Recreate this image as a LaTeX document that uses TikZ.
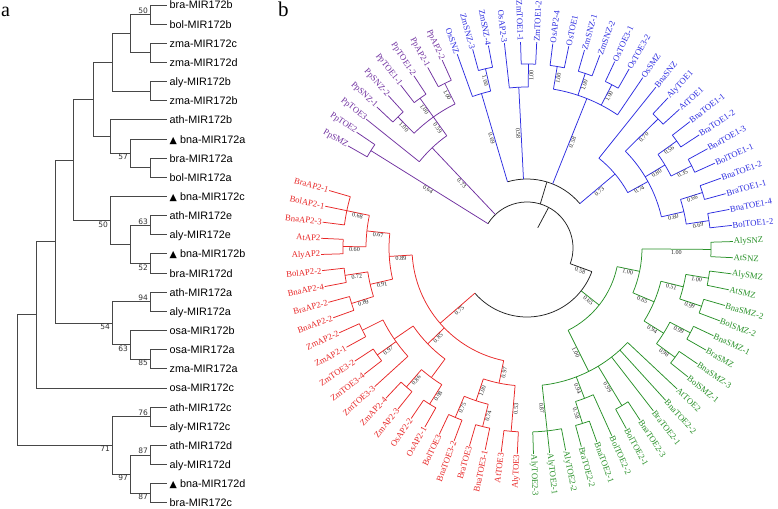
\documentclass[tikz,border=0pt]{standalone}
\usepackage{fontspec}
\setmainfont{Liberation Serif}
\setsansfont{Liberation Sans}
\newfontfamily\dejavu{DejaVu Sans}
\definecolor{pp}{RGB}{112,48,160}
\definecolor{bb}{RGB}{45,45,225}
\definecolor{rr}{RGB}{232,38,38}
\definecolor{gg}{RGB}{40,145,40}
\definecolor{kk}{RGB}{35,35,35}
\newcommand\Arc[4]{\draw[#1] (#2:#4) arc[start angle=#2,end angle=#3,radius=#4];}
\newcommand\Rad[4]{\draw[#1] (#2:#3) -- (#2:#4);}
\newcommand\Bs[3]{\pgfmathsetmacro\bsrot{cos(#1)>=0 ? #1 : #1+180}\node[bsb,rotate=\bsrot] at (#1:#2) {#3};}
\newcommand\Lf[4]{%
 \pgfmathsetmacro\lth{150.3-4.5*#1}%
 \pgfmathtruncatemacro\lrt{cos(\lth)>=0 ? 1 : 0}%
 \draw[#4] (\lth:#3) -- (\lth:206);%
 \ifnum\lrt=1
   \node[lfb,text=#4,anchor=west,rotate=\lth] (L#1) at (\lth:205.5) {#2};%
 \else
   \pgfmathsetmacro\lthr{\lth+180}%
   \node[lfb,text=#4,anchor=east,rotate=\lthr] (L#1) at (\lth:205.5) {#2};%
 \fi}
\begin{document}
\begin{tikzpicture}[x=1pt,y=1pt,
  tr/.style={draw=black!72,line width=0.9pt},
  lfa/.style={font=\sffamily\fontsize{10.8}{11}\selectfont,anchor=base west,inner sep=0pt},
  bsa/.style={font=\dejavu\fontsize{7.5}{8}\selectfont,inner sep=0.8pt,text=black!80},
  bsb/.style={font=\fontsize{6.1}{6.5}\selectfont,inner sep=0.5pt,anchor=north,text=black!85},
  lfb/.style={font=\fontsize{8.7}{9}\selectfont,inner sep=1pt}]
\fill[white] (0,0) rectangle (778,508);
\useasboundingbox (0,0) rectangle (778,508);
% ---------------- panel a ----------------
\node[anchor=base west,inner sep=0pt,font=\fontsize{20}{20}\selectfont] (pa) at (1,491) {a};
\begin{scope}[shift={(0,508)},yscale=-1]
\foreach \i in {0,...,26} {\coordinate (t\i) at (167,{5+19.15*\i});}
\foreach \i/\nm in {0/bra-MIR172b,1/bol-MIR172b,2/zma-MIR172c,3/zma-MIR172d,4/aly-MIR172b,
  5/zma-MIR172b,6/ath-MIR172b,8/bra-MIR172a,9/bol-MIR172a,11/ath-MIR172e,12/aly-MIR172e,
  14/bra-MIR172d,15/ath-MIR172a,16/aly-MIR172a,17/osa-MIR172b,18/osa-MIR172a,19/zma-MIR172a,
  20/osa-MIR172c,21/ath-MIR172c,22/aly-MIR172c,23/ath-MIR172d,24/aly-MIR172d,26/bra-MIR172c}
  {\node[lfa] (n\i) at (169.5,{9+19.15*\i}) {\nm};}
\foreach \i/\nm in {7/bna-MIR172a,10/bna-MIR172c,13/bna-MIR172b,25/bna-MIR172d}
  {\node[lfa] (n\i) at (169.5,{9+19.15*\i}) {{\dejavu\fontsize{9.5}{10}\selectfont ▲} \nm};}
\coordinate (a1) at (150,14.575);  \coordinate (a2) at (150,52.875);
\coordinate (a3) at (130,33.725);  \coordinate (a4) at (150,91.175);
\coordinate (a5) at (112,62.45);   \coordinate (a6) at (150,167.775);
\coordinate (a7) at (130,153.41);  \coordinate (a8) at (110,136.66);
\coordinate (a9) at (93,99.55);    \coordinate (a10) at (150,225.225);
\coordinate (a11) at (150,263.525);\coordinate (a12) at (130,244.375);
\coordinate (a13) at (110,220.44); \coordinate (a14) at (73,159.99);
\coordinate (a15) at (150,301.825);\coordinate (a16) at (150,359.275);
\coordinate (a17) at (130,344.91); \coordinate (a18) at (112,323.37);
\coordinate (a19) at (55,241.68);  \coordinate (a20) at (36,314.84);
\coordinate (a21) at (150,416.725);\coordinate (a22) at (150,455.025);
\coordinate (a23) at (150,493.325);\coordinate (a24) at (130,474.175);
\coordinate (a25) at (112,445.45); \coordinate (a0) at (17,380.15);
\foreach \p/\c in {a1/t0,a1/t1,a2/t2,a2/t3,a3/a1,a3/a2,a4/t4,a4/t5,a5/a3,a5/a4,
  a6/t8,a6/t9,a7/t7,a7/a6,a8/t6,a8/a7,a9/a5,a9/a8,a10/t11,a10/t12,a11/t13,a11/t14,
  a12/a10,a12/a11,a13/t10,a13/a12,a14/a9,a14/a13,a15/t15,a15/t16,a16/t18,a16/t19,
  a17/t17,a17/a16,a18/a15,a18/a17,a19/a14,a19/a18,a20/a19,a20/t20,a21/t21,a21/t22,
  a22/t23,a22/t24,a23/t25,a23/t26,a24/a22,a24/a23,a25/a21,a25/a24,a0/a20,a0/a25}
  {\draw[tr] (\p) |- (\c);}
\foreach \p/\t in {a1/50,a10/63,a15/94,a21/76,a22/87}
  {\node[bsa,anchor=south east] at ([xshift=-1pt]\p) {\t};}
\foreach \p/\t in {a7/57,a13/50,a11/52,a18/54,a17/63,a16/85,a23/87,a24/97,a25/71}
  {\node[bsa,anchor=north east] at ([xshift=-1pt]\p) {\t};}
\end{scope}
% ---------------- panel b ----------------
\node[anchor=north west,inner sep=0pt,font=\fontsize{21}{21}\selectfont] (pb) at (278,506) {b};
\begin{scope}[shift={(527,260)},line width=0.75pt]
% backbone
\Arc{kk}{148.05}{-20}{46}
\Rad{kk}{62}{23}{46}
\Rad{kk}{73.24}{46}{69}
\Arc{kk}{106.43}{40.05}{69}
\Rad{kk}{-20}{46}{69} \Bs{-20}{57.5}{0.58}
\Arc{kk}{-20}{-139.1}{69}
% purple
\Arc{pp}{150.3}{145.8}{184}
\Arc{pp}{136.8}{132.3}{184}
\Arc{pp}{127.8}{123.3}{184}
\Arc{pp}{118.8}{114.3}{184}
\Arc{pp}{134.55}{116.55}{161}
\Rad{pp}{134.55}{161}{184}\Rad{pp}{125.55}{161}{184}\Rad{pp}{116.55}{161}{184}
\Arc{pp}{141.3}{125.55}{138}
\Rad{pp}{125.55}{138}{161}
\Rad{pp}{148.05}{46}{184}
\Rad{pp}{133.43}{46}{138}
\Bs{148.05}{115}{0.64}\Bs{134.55}{172.5}{1.00}\Bs{125.55}{172.5}{1.00}
\Bs{116.55}{172.5}{1.00}\Bs{125.55}{149.5}{0.59}\Bs{133.43}{92}{0.73}
% blue
\Arc{bb}{105.3}{100.8}{184}
\Arc{bb}{109.8}{103.05}{161}\Rad{bb}{103.05}{161}{184}
\Arc{bb}{91.8}{87.3}{184}
\Arc{bb}{96.3}{89.55}{161}\Rad{bb}{89.55}{161}{184}
\Arc{bb}{82.8}{78.3}{184}
\Arc{bb}{73.8}{69.3}{184}
\Arc{bb}{64.8}{60.3}{184}
\Arc{bb}{80.55}{55.8}{161}
\Rad{bb}{80.55}{161}{184}\Rad{bb}{71.55}{161}{184}\Rad{bb}{62.55}{161}{184}
\Rad{bb}{106.43}{69}{161}\Rad{bb}{92.93}{69}{161}\Rad{bb}{68.18}{69}{161}\Rad{bb}{40.05}{69}{115}
\Arc{bb}{51.3}{28.8}{115}
\Rad{bb}{28.8}{115}{138}
\Arc{bb}{44.55}{13.05}{138}
\Arc{bb}{46.8}{42.3}{184}\Rad{bb}{44.55}{138}{184}
\Arc{bb}{37.8}{33.3}{184}\Arc{bb}{28.8}{24.3}{184}
\Arc{bb}{35.55}{26.55}{161}\Rad{bb}{35.55}{161}{184}\Rad{bb}{26.55}{161}{184}
\Rad{bb}{31.05}{138}{161}
\Arc{bb}{19.8}{15.3}{184}\Arc{bb}{10.8}{6.3}{184}
\Arc{bb}{17.55}{8.55}{161}\Rad{bb}{17.55}{161}{184}\Rad{bb}{8.55}{161}{184}
\Rad{bb}{13.05}{138}{161}
\Bs{103.05}{172.5}{1.00}\Bs{106.43}{115}{0.69}\Bs{89.55}{172.5}{1.00}\Bs{92.93}{115}{0.58}
\Bs{80.55}{172.5}{1.00}\Bs{71.55}{172.5}{1.00}\Bs{62.55}{172.5}{1.00}\Bs{68.18}{115}{0.58}
\Bs{40.05}{92}{0.73}\Bs{28.8}{126.5}{0.74}\Bs{44.55}{161}{0.70}\Bs{31.05}{149.5}{0.80}
\Bs{35.55}{172.5}{0.56}\Bs{26.55}{172.5}{0.35}\Bs{13.05}{149.5}{0.60}
\Bs{17.55}{172.5}{0.66}\Bs{8.55}{172.5}{0.69}
% green
\Rad{gg}{-38.35}{69}{92}\Bs{-38.35}{80.5}{0.65}
\Arc{gg}{-11.7}{-63.45}{92}
\Rad{gg}{-11.7}{92}{115}\Bs{-11.7}{103.5}{1.00}
\Arc{gg}{-0.45}{-22.95}{115}
\Arc{gg}{1.8}{-2.7}{184}\Rad{gg}{-0.45}{115}{184}\Bs{-0.45}{149.5}{1.00}
\Rad{gg}{-22.95}{115}{138}\Bs{-22.95}{126.5}{0.65}
\Arc{gg}{-13.95}{-31.95}{138}
\Rad{gg}{-13.95}{138}{161}\Bs{-13.95}{149.5}{0.51}
\Rad{gg}{-31.95}{138}{161}\Bs{-31.95}{149.5}{0.94}
\Arc{gg}{-9.45}{-18.45}{161}
\Arc{gg}{-27.45}{-36.45}{161}
\Arc{gg}{-7.2}{-11.7}{184}\Rad{gg}{-9.45}{161}{184}\Bs{-9.45}{172.5}{1.00}
\Arc{gg}{-16.2}{-20.7}{184}\Rad{gg}{-18.45}{161}{184}\Bs{-18.45}{172.5}{0.99}
\Arc{gg}{-25.2}{-29.7}{184}\Rad{gg}{-27.45}{161}{184}\Bs{-27.45}{172.5}{0.99}
\Arc{gg}{-34.2}{-38.7}{184}\Rad{gg}{-36.45}{161}{184}\Bs{-36.45}{172.5}{0.98}
\Rad{gg}{-63.45}{92}{138}\Bs{-63.45}{115}{1.00}
\Arc{gg}{-43.2}{-83.7}{138}
\Arc{gg}{-56.7}{-61.2}{184}\Rad{gg}{-58.95}{138}{184}\Bs{-58.95}{161}{0.99}
\Rad{gg}{-69.08}{138}{161}\Bs{-69.08}{149.5}{0.94}\Arc{gg}{-65.7}{-72.45}{161}
\Arc{gg}{-70.2}{-74.7}{184}\Rad{gg}{-72.45}{161}{184}\Bs{-72.45}{172.5}{0.58}
\Arc{gg}{-79.2}{-88.2}{184}\Rad{gg}{-83.7}{138}{184}\Bs{-83.7}{161}{0.87}
% red
\Rad{rr}{-139.1}{69}{115}\Bs{-139.1}{92}{0.75}
\Arc{rr}{-176.5}{-101.7}{115}
\Rad{rr}{-176.5}{115}{138}\Bs{-176.5}{126.5}{0.89}
\Arc{rr}{-186.08}{-166.95}{138}
\Rad{rr}{-186.08}{138}{161}\Bs{-186.08}{149.5}{0.67}\Arc{rr}{-191.7}{-180.45}{161}
\Rad{rr}{-191.7}{161}{184}\Bs{-191.7}{172.5}{0.68}\Arc{rr}{-196.2}{-187.2}{184}
\Rad{rr}{-180.45}{161}{184}\Bs{-180.45}{172.5}{0.60}\Arc{rr}{-182.7}{-178.2}{184}
\Rad{rr}{-166.95}{138}{161}\Bs{-166.95}{149.5}{0.91}\Arc{rr}{-171.45}{-162.45}{161}
\Rad{rr}{-171.45}{161}{184}\Bs{-171.45}{172.5}{0.72}\Arc{rr}{-173.7}{-169.2}{184}
\Rad{rr}{-162.45}{161}{184}\Bs{-162.45}{172.5}{0.89}\Arc{rr}{-164.7}{-160.2}{184}
\Rad{rr}{-136}{115}{138}\Bs{-136}{126.5}{0.85}\Arc{rr}{-145.58}{-126.45}{138}
\Rad{rr}{-145.58}{138}{161}\Arc{rr}{-153.45}{-137.7}{161}
\Rad{rr}{-153.45}{161}{184}\Arc{rr}{-155.7}{-151.2}{184}
\Rad{rr}{-144.45}{161}{184}\Bs{-144.45}{172.5}{0.97}\Arc{rr}{-146.7}{-142.2}{184}
\Rad{rr}{-126.45}{138}{161}\Arc{rr}{-130.95}{-121.95}{161}
\Rad{rr}{-130.95}{161}{184}\Bs{-130.95}{172.5}{0.86}\Arc{rr}{-133.2}{-128.7}{184}
\Rad{rr}{-121.95}{161}{184}\Bs{-121.95}{172.5}{0.98}\Arc{rr}{-124.2}{-119.7}{184}
\Rad{rr}{-101.7}{115}{138}\Bs{-101.7}{126.5}{0.97}\Arc{rr}{-108.45}{-94.95}{138}
\Rad{rr}{-108.45}{138}{161}\Bs{-108.45}{149.5}{1.00}\Arc{rr}{-112.95}{-103.95}{161}
\Rad{rr}{-112.95}{161}{184}\Bs{-112.95}{172.5}{0.75}\Arc{rr}{-115.2}{-110.7}{184}
\Rad{rr}{-103.95}{161}{184}\Bs{-103.95}{172.5}{0.74}\Arc{rr}{-106.2}{-101.7}{184}
\Rad{rr}{-94.95}{138}{184}\Bs{-94.95}{161}{0.53}\Arc{rr}{-97.2}{-92.7}{184}
% leaves
\Lf{0}{PpSMZ}{184}{pp}\Lf{1}{PpTOE2}{184}{pp}\Lf{2}{PpTOE3}{138}{pp}
\Lf{3}{PpSNZ-1}{184}{pp}\Lf{4}{PpSNZ-2}{184}{pp}\Lf{5}{PpTOE1-1}{184}{pp}
\Lf{6}{PpTOE1-2}{184}{pp}\Lf{7}{PpAP2-1}{184}{pp}\Lf{8}{PpAP2-2}{184}{pp}
\Lf{9}{OsSNZ}{161}{bb}\Lf{10}{ZmSNZ-3}{184}{bb}\Lf{11}{ZmSNZ-4}{184}{bb}
\Lf{12}{OsAP2-3}{161}{bb}\Lf{13}{ZmTOE1-1}{184}{bb}\Lf{14}{ZmTOE1-2}{184}{bb}
\Lf{15}{OsAP2-4}{184}{bb}\Lf{16}{OsTOE1}{184}{bb}\Lf{17}{ZmSNZ-1}{184}{bb}
\Lf{18}{ZmSNZ-2}{184}{bb}\Lf{19}{OsTOE3-1}{184}{bb}\Lf{20}{OsTOE3-2}{184}{bb}
\Lf{21}{OsSMZ}{161}{bb}\Lf{22}{BnaSNZ}{115}{bb}\Lf{23}{AlyTOE1}{184}{bb}
\Lf{24}{AtTOE1}{184}{bb}\Lf{25}{BnaTOE1-1}{184}{bb}\Lf{26}{BraTOE1-2}{184}{bb}
\Lf{27}{BnaTOE1-3}{184}{bb}\Lf{28}{BolTOE1-1}{184}{bb}\Lf{29}{BnaTOE1-2}{184}{bb}
\Lf{30}{BraTOE1-1}{184}{bb}\Lf{31}{BnaTOE1-4}{184}{bb}\Lf{32}{BolTOE1-2}{184}{bb}
\Lf{33}{AlySNZ}{184}{gg}\Lf{34}{AtSNZ}{184}{gg}\Lf{35}{AlySMZ}{184}{gg}
\Lf{36}{AtSMZ}{184}{gg}\Lf{37}{BnaSMZ-2}{184}{gg}\Lf{38}{BolSMZ-2}{184}{gg}
\Lf{39}{BnaSMZ-1}{184}{gg}\Lf{40}{BraSMZ}{184}{gg}\Lf{41}{BnaSMZ-3}{184}{gg}
\Lf{42}{BolSMZ-1}{184}{gg}\Lf{43}{AtTOE2}{138}{gg}\Lf{44}{BnaTOE2-2}{138}{gg}
\Lf{45}{BraTOE2-1}{138}{gg}\Lf{46}{BnaTOE2-3}{184}{gg}\Lf{47}{BolTOE2-1}{184}{gg}
\Lf{48}{BolTOE2-2}{161}{gg}\Lf{49}{BnaTOE2-1}{184}{gg}\Lf{50}{BraTOE2-2}{184}{gg}
\Lf{51}{AlyTOE2-2}{184}{gg}\Lf{52}{AlyTOE2-1}{184}{gg}\Lf{53}{AlyTOE2-3}{184}{gg}
\Lf{54}{AlyTOE3}{184}{rr}\Lf{55}{AtTOE3}{184}{rr}\Lf{56}{BnaTOE3-1}{184}{rr}
\Lf{57}{BraTOE3}{184}{rr}\Lf{58}{BnaTOE3-2}{184}{rr}\Lf{59}{BolTOE3}{184}{rr}
\Lf{60}{OsAP2-1}{184}{rr}\Lf{61}{OsAP2-2}{184}{rr}\Lf{62}{ZmAP2-3}{184}{rr}
\Lf{63}{ZmAP2-4}{184}{rr}\Lf{64}{ZmTOE3-3}{161}{rr}\Lf{65}{ZmTOE3-4}{184}{rr}
\Lf{66}{ZmTOE3-2}{184}{rr}\Lf{67}{ZmAP2-1}{184}{rr}\Lf{68}{ZmAP2-2}{184}{rr}
\Lf{69}{BnaAP2-2}{184}{rr}\Lf{70}{BraAP2-2}{184}{rr}\Lf{71}{BnaAP2-4}{184}{rr}
\Lf{72}{BolAP2-2}{184}{rr}\Lf{73}{AlyAP2}{184}{rr}\Lf{74}{AtAP2}{184}{rr}
\Lf{75}{BnaAP2-3}{184}{rr}\Lf{76}{BolAP2-1}{184}{rr}\Lf{77}{BraAP2-1}{184}{rr}
\end{scope}
\end{tikzpicture}
\end{document}
